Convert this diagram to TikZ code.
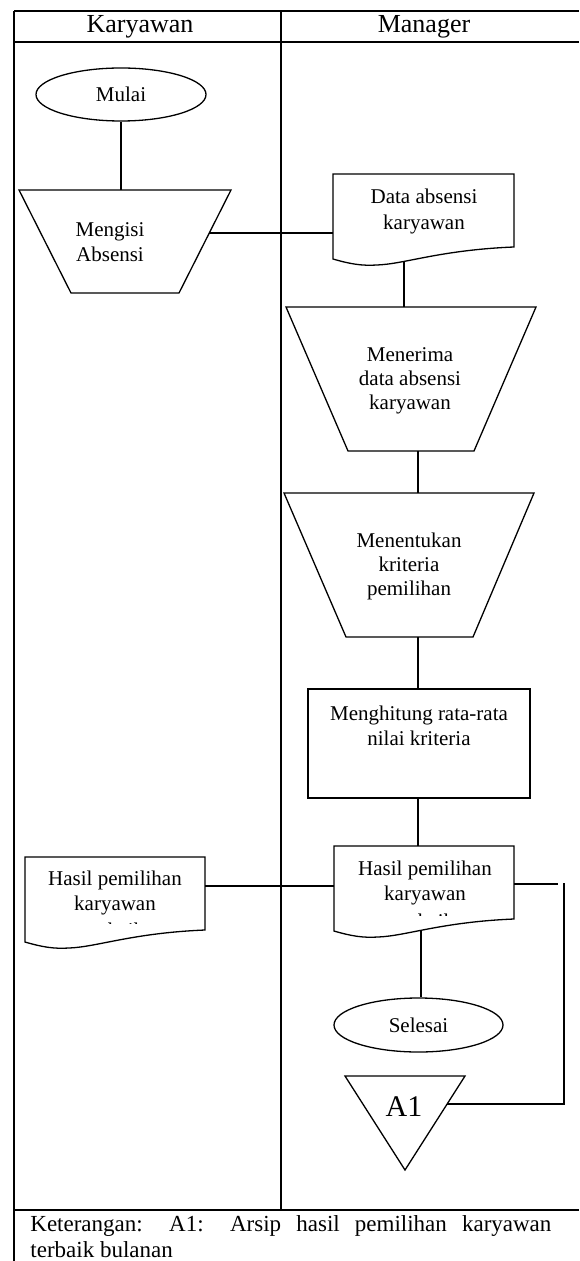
\documentclass[tikz,border=0pt]{standalone}
\usepackage{fontspec}
\setmainfont{Liberation Serif}
\usetikzlibrary{calc,shapes.geometric}
\begin{document}
\begin{tikzpicture}[x=0.5pt,y=-0.5pt,
  frameline/.style={line width=0.95pt},
  shp/.style={line width=0.65pt},
  bbox/.style={inner sep=0pt,outer sep=0pt,draw=none},
  txt/.style={font=\fontsize{10.5}{12.5}\selectfont,align=center,inner sep=0pt},
  hdr/.style={font=\fontsize{13}{15}\selectfont,inner sep=0pt},
  term/.style={ellipse,draw,shp,inner sep=0pt,font=\fontsize{10.5}{12.5}\selectfont}]
\useasboundingbox (0,0) rectangle (579,1261);
% frame
\draw[frameline] (14,11) -- (579,11);
\draw[frameline] (14,42) -- (579,42);
\draw[frameline] (14,11) -- (14,1261);
\draw[frameline] (281,11) -- (281,1210);
\draw[frameline] (14,1210) -- (579,1210);
\node[hdr] (hk) at (140,27) {Karyawan};
\node[hdr] (hm) at (424,27) {Manager};
% Mulai
\node[term,minimum width=85pt,minimum height=26.5pt] (mulai) at (121,94.5) {Mulai};
% Mengisi Absensi
\node[bbox,minimum width=106pt,minimum height=51.5pt] (mengisi) at (125,241.5) {};
\draw[shp] (mengisi.north west) -- (mengisi.north east) -- ($(mengisi.south east)+(-52,0)$) -- ($(mengisi.south west)+(52,0)$) -- cycle;
\node[txt] (mengisiT) at (110,242.5) {Mengisi\\Absensi};
% Data absensi karyawan (document)
\node[bbox,minimum width=90.5pt,minimum height=42.5pt] (data) at (423.5,216.5) {};
\draw[shp] (data.south west) -- (data.north west) -- (data.north east) -- ($(data.south east)+(0,-12)$)
  .. controls ($(data.south west)+(107,-9)$) and ($(data.south west)+(72,5)$) .. ($(data.south west)+(44,6)$)
  .. controls ($(data.south west)+(29,7)$) and ($(data.south west)+(17,5)$) .. cycle;
\node[txt,font=\fontsize{10.5}{13}\selectfont] (dataT) at (424,211) {Data absensi\\karyawan};
% Menerima
\node[bbox,minimum width=125pt,minimum height=72pt] (menerima) at (411,379) {};
\draw[shp] (menerima.north west) -- (menerima.north east) -- ($(menerima.south east)+(-62,0)$) -- ($(menerima.south west)+(62,0)$) -- cycle;
\node[txt,font=\fontsize{10.5}{12}\selectfont] (menerimaT) at (410,381) {Menerima\\data absensi\\karyawan};
% Menentukan
\node[bbox,minimum width=125pt,minimum height=72pt] (menentukan) at (409,565) {};
\draw[shp] (menentukan.north west) -- (menentukan.north east) -- ($(menentukan.south east)+(-61,0)$) -- ($(menentukan.south west)+(62,0)$) -- cycle;
\node[txt,font=\fontsize{10.5}{12}\selectfont] (menentukanT) at (409,566.5) {Menentukan\\kriteria\\pemilihan};
% Menghitung
\node[draw,shp,inner sep=0pt,minimum width=111pt,minimum height=54.5pt] (hitung) at (419,743.5) {};
\node[txt] (hitungT) at (419,725.5) {Menghitung rata-rata\\nilai kriteria};
% Hasil (Manager)
\node[bbox,minimum width=90pt,minimum height=42.5pt] (hasilR) at (424,888.5) {};
\draw[shp] (hasilR.south west) -- (hasilR.north west) -- (hasilR.north east) -- ($(hasilR.south east)+(0,-12)$)
  .. controls ($(hasilR.south west)+(107,-9)$) and ($(hasilR.south west)+(72,5)$) .. ($(hasilR.south west)+(44,6)$)
  .. controls ($(hasilR.south west)+(29,7)$) and ($(hasilR.south west)+(17,5)$) .. cycle;
\node[txt] (hasilRT) at (425,882.5) {Hasil pemilihan\\karyawan};
\begin{scope}
\clip (334,846) rectangle (514,915);
\node[txt] (hasilR3) at (425,921) {terbaik};
\end{scope}
% Hasil (Karyawan)
\node[bbox,minimum width=90pt,minimum height=42.5pt] (hasilL) at (115,899.5) {};
\draw[shp] (hasilL.south west) -- (hasilL.north west) -- (hasilL.north east) -- ($(hasilL.south east)+(0,-12)$)
  .. controls ($(hasilL.south west)+(107,-9)$) and ($(hasilL.south west)+(72,5)$) .. ($(hasilL.south west)+(44,6)$)
  .. controls ($(hasilL.south west)+(29,7)$) and ($(hasilL.south west)+(17,5)$) .. cycle;
\node[txt] (hasilLT) at (115,892.5) {Hasil pemilihan\\karyawan};
\begin{scope}
\clip (25,857) rectangle (205,923);
\node[txt] (hasilL3) at (115,930) {terbaik};
\end{scope}
% Selesai
\node[term,minimum width=84.5pt,minimum height=27pt] (selesai) at (418.5,1025) {Selesai};
% A1 archive
\node[bbox,minimum width=60pt,minimum height=47pt] (a1) at (405,1123) {};
\draw[shp] (a1.north west) -- (a1.north east) -- (a1.south) -- cycle;
\node[inner sep=0pt,font=\fontsize{15}{17}\selectfont] (a1T) at (404,1107) {A1};
% connectors
\draw[shp] (mulai.south) -- (mulai.south |- mengisi.north);
\coordinate (mengisiR) at ($(mengisi.north east)!0.4175!($(mengisi.south east)+(-52,0)$)$);
\draw[shp] (mengisiR) -- (mengisiR -| data.west);
\coordinate (dataB) at ($(data.south west)+(71,2)$);
\draw[shp] (dataB) -- (dataB |- menerima.north);
\coordinate (merB) at ($(menerima.south)+(7,0)$);
\draw[shp] (merB) -- (merB |- menentukan.north);
\coordinate (menB) at ($(menentukan.south)+(9,0)$);
\draw[shp] (menB) -- (menB |- hitung.north);
\coordinate (hitB) at ($(hitung.south)+(-1,0)$);
\draw[shp] (hitB) -- (hitB |- hasilR.north);
\coordinate (hL) at ($(hasilL.north east)+(0,29)$);
\draw[shp] (hL) -- (hL -| hasilR.west);
\coordinate (hRb) at ($(hasilR.south west)+(87,-1)$);
\draw[shp] (hRb) -- (hRb |- selesai.north);
\coordinate (hR) at ($(hasilR.north east)+(0,38)$);
\coordinate (hRend) at ($(hR)+(44,0)$);
\draw[shp] (hR) -- (hRend);
\coordinate (a1R) at ($(a1.north east)!0.298!(a1.south)$);
\coordinate (vtop) at (564,883);
\draw[shp] (vtop) -- (vtop |- a1R) -- (a1R);
% Keterangan
\node[anchor=north west,inner sep=0pt,text width=260.5pt,align=justify,font=\fontsize{11.5}{13}\selectfont] (ket) at (30,1215)
 {Keterangan: A1: Arsip hasil pemilihan karyawan\linebreak terbaik bulanan};
\end{tikzpicture}
\end{document}
